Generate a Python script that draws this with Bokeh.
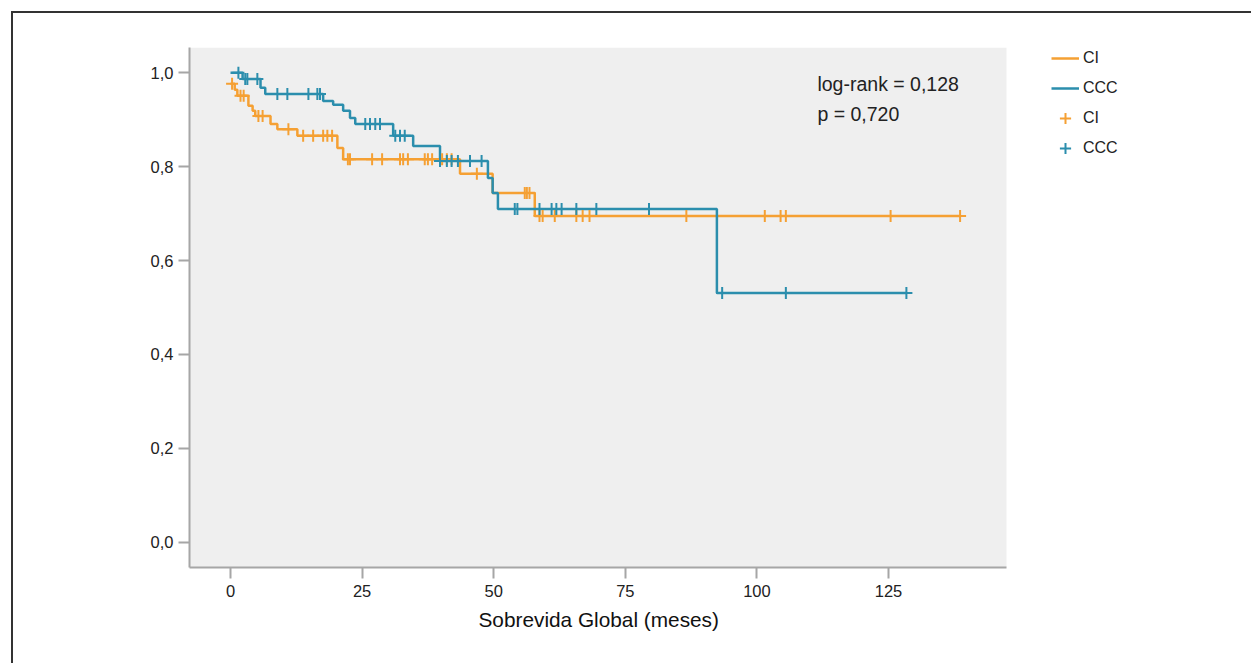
import numpy as np
from bokeh.plotting import figure
from bokeh.models import (Range1d, FixedTicker, Legend, LegendItem, Label,
                          BoxAnnotation, Title)
from bokeh.embed import file_html
from bokeh.resources import INLINE

# ---------------- data ----------------
# CI group (orange): event times and survival after each event
ci_event_t = [0.0, 0.8, 1.3, 3.4, 4.2, 4.7, 7.6, 8.9, 12.7, 20.3, 21.4, 43.6, 49.8, 57.8]
ci_event_s = [0.977, 0.964, 0.951, 0.930, 0.919, 0.908, 0.891, 0.880, 0.866, 0.840, 0.816, 0.785, 0.744, 0.695]
ci_censor_t = [0.3, 1.9, 2.5, 5.3, 6.1, 11.0, 13.8, 15.7, 17.6, 18.4, 19.3, 22.3, 22.7,
               26.9, 28.8, 32.2, 32.8, 33.7, 36.9, 37.5, 38.3, 40.2, 41.1, 42.0, 46.8,
               55.9, 56.3, 56.8, 58.7, 59.3, 61.6, 65.7, 66.9, 68.2, 86.6, 101.5,
               104.5, 105.5, 125.4, 138.6]

# CCC group (teal)
ccc_event_t = [2.3, 5.7, 6.6, 17.6, 19.5, 21.4, 22.7, 23.7, 30.9, 34.7, 39.8, 48.9, 49.8, 50.8, 92.4]
ccc_event_s = [0.987, 0.968, 0.955, 0.940, 0.932, 0.919, 0.904, 0.891, 0.866, 0.844, 0.812, 0.776, 0.744, 0.710, 0.531]
ccc_censor_t = [1.5, 2.8, 3.2, 5.1, 8.9, 10.8, 14.8, 16.5, 17.0, 25.6, 26.5, 27.5, 28.4,
                31.3, 32.2, 33.1, 39.8, 41.1, 42.0, 43.2, 45.5, 47.7, 54.0, 54.5, 58.7,
                61.0, 61.9, 62.9, 65.7, 69.5, 79.5, 93.4, 105.5, 128.4]

group_names = ["CI", "CCC"]
x_ticks = [0, 25, 50, 75, 100, 125]
y_ticks = [0.0, 0.2, 0.4, 0.6, 0.8, 1.0]
y_tick_labels = ["0,0", "0,2", "0,4", "0,6", "0,8", "1,0"]
x_title = "Sobrevida Global (meses)"
stat_lines = ["log-rank = 0,128", "p = 0,720"]

ORANGE = "#F5A033"
TEAL = "#2B8EAD"
FONT = "Liberation Sans"

# axis extent of the grey plotting area (months / survival)
X_LO, X_HI = -7.79, 147.42
Y_LO, Y_HI = -0.054, 1.054


def km_curve(ev_t, ev_s, cen_t):
    """Build step-line arrays (start at 1.0 unless an event at t=0) and censor y."""
    if ev_t[0] == 0:
        t, s = list(ev_t), list(ev_s)
    else:
        t = [0.0] + list(ev_t)
        s = [1.0] + list(ev_s)
    t_end = max(max(cen_t), max(ev_t))
    t.append(t_end)
    s.append(s[-1])
    t_arr = np.array(t)
    s_arr = np.array(s)
    idx = np.searchsorted(t_arr, np.array(cen_t), side="right") - 1
    cen_s = s_arr[idx]
    return t_arr, s_arr, np.array(cen_t), cen_s


ci_t, ci_s, ci_ct, ci_cs = km_curve(ci_event_t, ci_event_s, ci_censor_t)
cc_t, cc_s, cc_ct, cc_cs = km_curve(ccc_event_t, ccc_event_s, ccc_censor_t)

W, H = 1251, 663
# frame spans to the right edge so the legend can sit inside it;
# the grey plotting area is limited to X_LO..X_HI
p = figure(width=W, height=H, output_backend="svg", toolbar_location=None,
           x_range=Range1d(X_LO, 193.01), y_range=Range1d(Y_LO, Y_HI),
           min_border_left=189, min_border_right=5, min_border_top=47,
           min_border_bottom=96,
           styles={"box-shadow": "inset 11px 11px 0 0 #ffffff, inset 13px 13px 0 0 #333333"})
p.background_fill_color = None
p.border_fill_color = None
p.outline_line_color = None
p.grid.visible = False

p.add_layout(BoxAnnotation(left=X_LO, right=X_HI, fill_color="#EFEFEF",
                           fill_alpha=1, line_color=None, level="underlay"))

# curves
r_ci_line = p.step(ci_t, ci_s, mode="after", line_color=ORANGE, line_width=2.5)
r_cc_line = p.step(cc_t, cc_s, mode="after", line_color=TEAL, line_width=2.5)
r_ci_cen = p.scatter(ci_ct, ci_cs, marker="cross", size=12, line_color=ORANGE, line_width=2)
r_cc_cen = p.scatter(cc_ct, cc_cs, marker="cross", size=12, line_color=TEAL, line_width=2)

# axes
for ax in (p.xaxis[0], p.yaxis[0]):
    ax.axis_line_color = "#A6A6A6"
    ax.axis_line_width = 2
    ax.major_tick_line_color = "#A6A6A6"
    ax.major_tick_line_width = 2
    ax.major_tick_out = 11
    ax.major_tick_in = 0
    ax.minor_tick_line_color = None
    ax.major_label_text_font = FONT
    ax.major_label_text_font_size = "16.5px"
    ax.major_label_text_color = "#222222"

p.xaxis.ticker = FixedTicker(ticks=x_ticks)
p.xaxis.bounds = (X_LO, X_HI)
p.xaxis.major_label_standoff = 6

p.yaxis.ticker = FixedTicker(ticks=y_ticks)
p.yaxis.major_label_overrides = {v: lab for v, lab in zip(y_ticks, y_tick_labels)}
p.yaxis.major_label_standoff = 5

# x-axis title, centred under the grey plotting area
p.add_layout(Title(text=x_title, align="left", offset=289, standoff=12,
                   text_font=FONT, text_font_size="20.8px",
                   text_font_style="normal", text_color="#111111"), "below")

# statistics text
p.add_layout(Label(x=111.5, y=0.9765, text=stat_lines[0], text_font=FONT,
                   text_font_size="19.5px", text_color="#222222",
                   text_baseline="alphabetic"))
p.add_layout(Label(x=111.5, y=0.9126, text=stat_lines[1], text_font=FONT,
                   text_font_size="19.5px", text_color="#222222",
                   text_baseline="alphabetic"))

# legend to the right of the grey plotting area
legend = Legend(items=[
    LegendItem(label=group_names[0], renderers=[r_ci_line]),
    LegendItem(label=group_names[1], renderers=[r_cc_line]),
    LegendItem(label=group_names[0], renderers=[r_ci_cen]),
    LegendItem(label=group_names[1], renderers=[r_cc_cen]),
], location=(862, 404), orientation="vertical")
legend.border_line_color = None
legend.background_fill_alpha = 0
legend.label_text_font = FONT
legend.label_text_font_size = "16px"
legend.label_text_color = "#222222"
legend.glyph_width = 28
legend.glyph_height = 30
legend.label_height = 20
legend.spacing = 0
legend.padding = 0
legend.margin = 0
legend.label_standoff = 4
p.add_layout(legend, "center")

open("out.html", "w").write(file_html(p, INLINE))
